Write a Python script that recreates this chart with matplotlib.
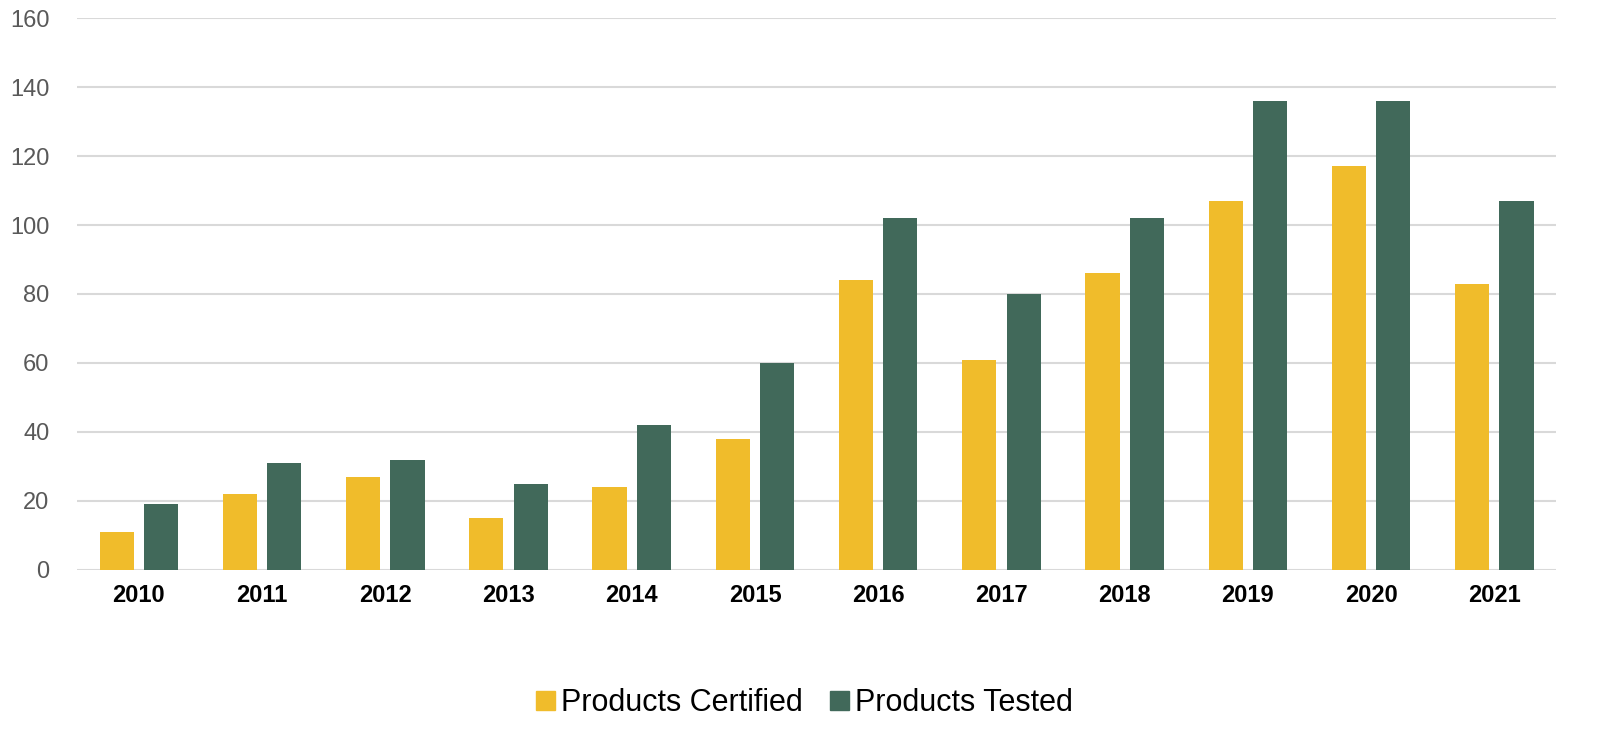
import numpy as np
import matplotlib
matplotlib.use("Agg")
import matplotlib.pyplot as plt
from matplotlib.patches import Patch

plt.rcParams['font.family'] = ['Liberation Sans', 'DejaVu Sans']

# chart data
years = ["2010", "2011", "2012", "2013", "2014", "2015",
         "2016", "2017", "2018", "2019", "2020", "2021"]
certified = [11, 22, 27, 15, 24, 38, 84, 61, 86, 107, 117, 83]
tested = [19, 31, 32, 25, 42, 60, 102, 80, 102, 136, 136, 107]

YELLOW = "#F0BC2B"
GREEN = "#41695A"

fig = plt.figure(figsize=(16.09, 7.35), dpi=100)
ax = fig.add_axes([0.048, 0.2245, 0.919, 0.751])

x = np.arange(len(years))
w = 0.277
off = 0.18
ax.bar(x - off, certified, width=w, color=YELLOW, zorder=3)
ax.bar(x + off, tested, width=w, color=GREEN, zorder=3)

ax.set_xlim(-0.5, len(years) - 0.5)
ax.set_ylim(0, 160)
ax.set_yticks(np.arange(0, 161, 20))
ax.yaxis.grid(True, color="#d9d9d9", linewidth=1.5, zorder=0)
ax.set_axisbelow(True)
for s in ax.spines.values():
    s.set_visible(False)

ax.set_xticks(x)
ax.set_xticklabels(years, fontsize=17, fontweight="bold", color="black")
ax.tick_params(axis="x", length=0, pad=10)
ax.tick_params(axis="y", length=0, pad=20, labelsize=17, labelcolor="#595959")

handles = [Patch(color=YELLOW, label="Products Certified"),
           Patch(color=GREEN, label="Products Tested")]
fig.legend(handles=handles, loc="center", bbox_to_anchor=(0.5, 0.043),
           ncol=2, frameon=False, fontsize=22, handlelength=0.6,
           handleheight=0.6, handletextpad=0.2, columnspacing=0.9)

fig.savefig("out.png", dpi=100)
